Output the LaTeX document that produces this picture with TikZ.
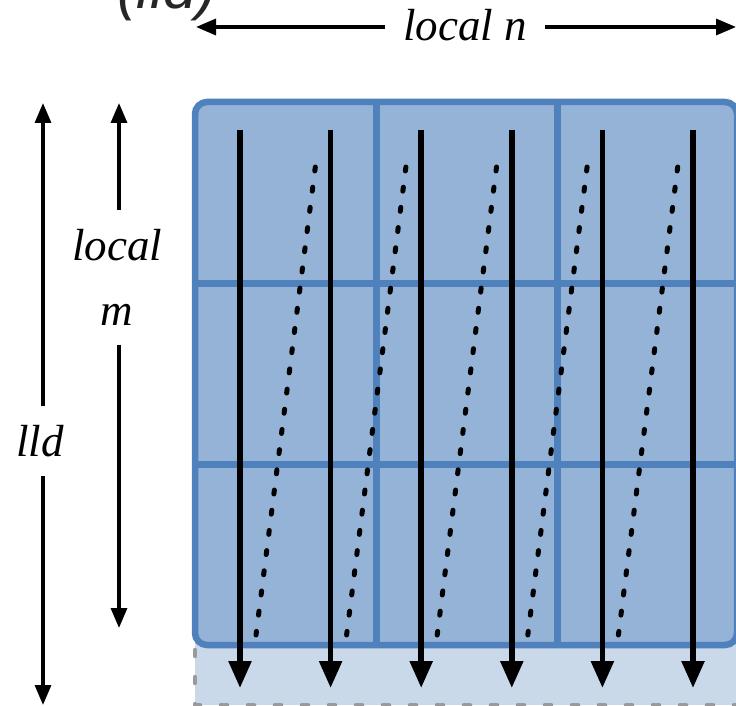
\documentclass[tikz,border=0pt]{standalone}
\usepackage{fontspec}
\setsansfont{Liberation Sans}
\newfontfamily\labelfont{Liberation Serif}
\usetikzlibrary{arrows.meta}
\definecolor{mfill}{HTML}{95B3D7}
\definecolor{mborder}{HTML}{4F81BD}
\definecolor{padfill}{HTML}{CAD9EA}
\definecolor{padline}{HTML}{9A9A9A}
\definecolor{titlegray}{HTML}{262626}
\tikzset{
  dimlabel/.style={font=\labelfont\fontsize{45}{65}\selectfont\itshape, inner xsep=4pt, inner ysep=19pt, align=center},
  dimarrow/.style={line width=3.3pt, -{Triangle[width=16pt,length=20pt]}},
  scanarrow/.style={line width=5.5pt, -{Triangle[width=22pt,length=27pt]}},
  wrapline/.style={line width=5pt, line cap=round, dash pattern=on 4pt off 16.35pt},
  gridline/.style={draw=mborder, line width=7pt},
  padbox/.style={fill=padfill, draw=padline, line width=4.5pt, line cap=round, dash pattern=on 6pt off 21pt},
  matbox/.style={fill=mfill, draw=mborder, line width=6.5pt, rounded corners=12pt}
}
\begin{document}
\begin{tikzpicture}[x=1pt,y=-1pt]
\useasboundingbox (0,0) rectangle (736,706);
\clip (0,0) rectangle (736,706);
% title (cropped)
\node[anchor=base, text=titlegray, font=\fontsize{60}{70}\selectfont\sffamily\itshape, inner sep=0pt] (title) at (167,9) {(lld)};
% padding region
\draw[padbox] (195,110) rectangle (760,705);
% matrix
\draw[matbox] (195,102) rectangle (737,645);
\draw[gridline] (376,102) -- (376,645);
\draw[gridline] (557,102) -- (557,645);
\draw[gridline] (195,283) -- (737,283);
\draw[gridline] (195,464) -- (737,464);
% wrap-around dotted lines
\foreach \k in {0,...,4} {
  \coordinate (wt\k) at ({315.3+90.6*\k},167);
  \coordinate (wb\k) at ({256+90.6*\k},635);
  \draw[wrapline] (wt\k) -- (wb\k);
}
% column scan arrows
\foreach \k in {0,...,5} {
  \coordinate (st\k) at ({240+90.6*\k},130);
  \coordinate (sb\k) at ({240+90.6*\k},688);
  \draw[scanarrow] (st\k) -- (sb\k);
}
% local n
\node[dimlabel, inner xsep=17.5pt, inner ysep=2pt] (ln) at (465,25) {local n};
\coordinate (lnL) at (196,27);
\coordinate (lnR) at (736,27);
\draw[dimarrow] (ln.west |- lnL) -- (lnL);
\draw[dimarrow] (ln.east |- lnR) -- (lnR);
% local m
\node[dimlabel] (lm) at (117,277.5) {local\\m};
\coordinate (lmT) at (119,103);
\coordinate (lmB) at (119,628);
\draw[dimarrow] (lm.north -| lmT) -- (lmT);
\draw[dimarrow] (lm.south -| lmB) -- (lmB);
% lld
\node[dimlabel] (lld) at (40,441) {lld};
\coordinate (ldT) at (43,103);
\coordinate (ldB) at (43,705);
\draw[dimarrow] (lld.north -| ldT) -- (ldT);
\draw[dimarrow] (lld.south -| ldB) -- (ldB);
\end{tikzpicture}
\end{document}
